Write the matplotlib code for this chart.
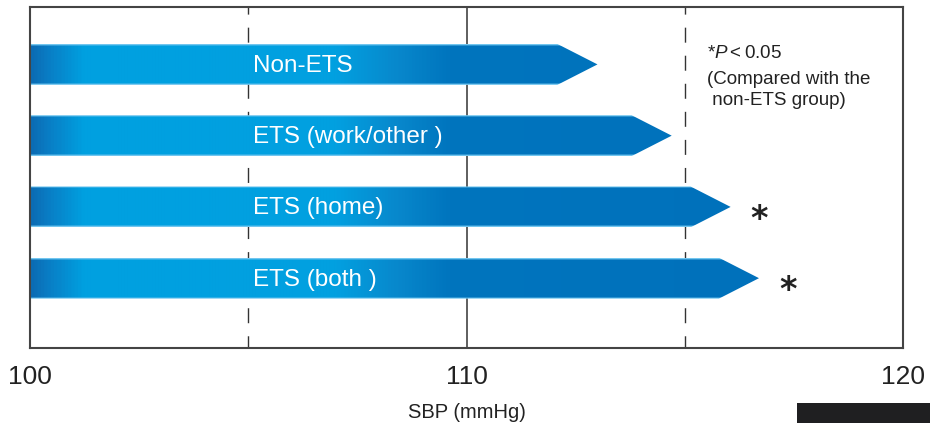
import numpy as np
import matplotlib
matplotlib.use("Agg")
from matplotlib import pyplot as plt
from matplotlib.patches import Polygon, Rectangle
from matplotlib.colors import LinearSegmentedColormap

plt.rcParams['font.family'] = ['Liberation Sans', 'DejaVu Sans']
plt.rcParams['mathtext.fontset'] = 'custom'
plt.rcParams['mathtext.rm'] = 'Liberation Sans'
plt.rcParams['mathtext.it'] = 'Liberation Sans:italic'

groups = ["Non-ETS", "ETS (work/other )", "ETS (home)", "ETS (both )"]
sbp = [113.0, 114.7, 116.05, 116.7]
significant = [False, False, True, True]

x_ticks = [100, 110, 120]
dashed_x = [105, 115]

bar_h = 0.575
head_len = 0.92

# horizontal colour ramp used inside every arrow
ramp = LinearSegmentedColormap.from_list("ramp", [
    (0.0, "#0b6cb4"),
    (0.015, "#0a7ac2"),
    (0.06, "#00a0e0"),
    (0.35, "#02a0e0"),
    (0.42, "#0888cc"),
    (0.48, "#0075be"),
    (1.0, "#006fba"),
])

fig = plt.figure(figsize=(9.3, 4.23), dpi=100)
ax = fig.add_axes([0.0323, 0.1773, 0.9387, 0.8062])
ax.set_xlim(100, 120)
ax.set_ylim(3.98, -0.806)

xs = np.linspace(100, 120, 800)
base = ramp((xs - 100) / 20)[:, :3]

for i, (name, val) in enumerate(zip(groups, sbp)):
    top, bot = i - bar_h / 2, i + bar_h / 2
    body_end = val - head_len
    shape = Polygon([(100, top), (body_end, top), (val, i),
                     (body_end, bot), (100, bot)], closed=True,
                    facecolor="none", edgecolor="none")
    ax.add_patch(shape)
    # light rim along the top and bottom edges
    rows = np.ones((41, 1, 1))
    rows[0] = rows[-1] = 0.0
    rows[1] = rows[-2] = 0.6
    img = base[None, :, :] * rows + (1 - rows) * np.array([0.45, 0.78, 0.94])
    im = ax.imshow(img, extent=[100, 120, bot, top], aspect="auto",
                   interpolation="bilinear", zorder=2)
    im.set_clip_path(shape)
    ax.text(105.1, i + 0.02, name, color="white", fontsize=17.5,
            ha="left", va="center", zorder=3)
    if significant[i]:
        ax.text(val + 0.66, i + 0.17, "*", fontsize=24, fontweight="bold",
                family="DejaVu Sans", ha="center", va="center",
                color="#222222", zorder=3)

ax.axvline(110, color="#333333", lw=1.1, zorder=1)
for xv in dashed_x:
    ax.axvline(xv, color="#333333", lw=1.0, linestyle=(2, (10.8, 9.4)),
               zorder=1)

ax.text(115.5, -0.15, r"*$P<$0.05", fontsize=13.5, ha="left", va="center",
        color="#222222")
ax.text(115.5, 0.36, "(Compared with the\n non-ETS group)", fontsize=13.5,
        ha="left", va="center", color="#222222", linespacing=1.25)

for side in ax.spines.values():
    side.set_color("#444444")
    side.set_linewidth(1.5)

ax.set_xticks(x_ticks)
ax.set_xticklabels([str(t) for t in x_ticks], fontsize=19, color="#222222")
ax.tick_params(axis="x", length=0, pad=12)
ax.set_yticks([])
ax.set_xlabel("SBP (mmHg)", fontsize=14.5, color="#222222", labelpad=10)

fig.patches.append(Rectangle((797 / 930, 0), 133 / 930, 20 / 423,
                             transform=fig.transFigure, facecolor="#1f1f21",
                             edgecolor="none"))

fig.savefig("out.png", dpi=100)
